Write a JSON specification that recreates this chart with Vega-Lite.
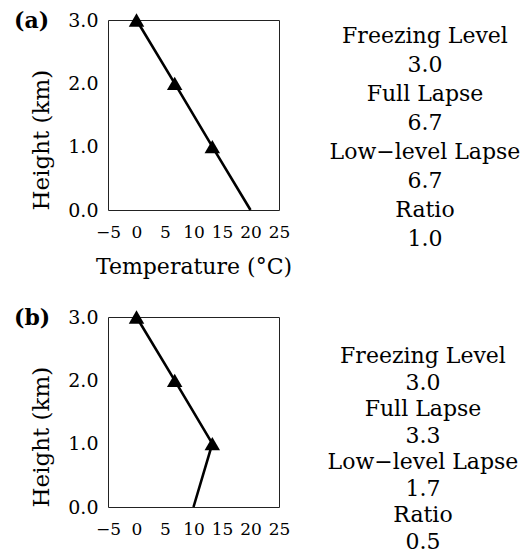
{
  "$schema": "https://vega.github.io/schema/vega-lite/v6.json",
  "padding": {"left": 13, "top": 9, "right": 0, "bottom": 0},
  "background": "white",
  "config": {
    "view": {"stroke": null},
    "font": "DejaVu Serif",
    "axis": {
      "grid": false, "ticks": false, "tickSize": 0, "domain": false,
      "labelColor": "black", "titleColor": "black",
      "labelFont": "DejaVu Serif", "titleFont": "DejaVu Serif",
      "titleFontWeight": "normal", "labelFlush": false
    }
  },
  "datasets": {
    "profiles": [
      {"panel": "a", "height": 0, "temp": 20},
      {"panel": "a", "height": 1, "temp": 13.3},
      {"panel": "a", "height": 2, "temp": 6.7},
      {"panel": "a", "height": 3, "temp": 0},
      {"panel": "b", "height": 0, "temp": 10},
      {"panel": "b", "height": 1, "temp": 13.3},
      {"panel": "b", "height": 2, "temp": 6.7},
      {"panel": "b", "height": 3, "temp": 0}
    ],
    "stats": [
      {"panel": "a", "line": 0, "label": "Freezing Level"},
      {"panel": "a", "line": 1, "label": "3.0"},
      {"panel": "a", "line": 2, "label": "Full Lapse"},
      {"panel": "a", "line": 3, "label": "6.7"},
      {"panel": "a", "line": 4, "label": "Low−level Lapse"},
      {"panel": "a", "line": 5, "label": "6.7"},
      {"panel": "a", "line": 6, "label": "Ratio"},
      {"panel": "a", "line": 7, "label": "1.0"},
      {"panel": "b", "line": 0, "label": "Freezing Level"},
      {"panel": "b", "line": 1, "label": "3.0"},
      {"panel": "b", "line": 2, "label": "Full Lapse"},
      {"panel": "b", "line": 3, "label": "3.3"},
      {"panel": "b", "line": 4, "label": "Low−level Lapse"},
      {"panel": "b", "line": 5, "label": "1.7"},
      {"panel": "b", "line": 6, "label": "Ratio"},
      {"panel": "b", "line": 7, "label": "0.5"}
    ]
  },
  "spacing": 28,
  "vconcat": [
    {
      "spacing": 32,
      "hconcat": [
        {
          "width": 171, "height": 190,
          "view": {"stroke": "#222", "strokeWidth": 1},
          "title": {"text": "(a)", "anchor": "start", "frame": "group", "orient": "top", "baseline": "top", "offset": 2, "dx": -94, "dy": 24, "fontSize": 22, "fontWeight": "bold", "font": "DejaVu Serif", "color": "black"},
          "data": {"name": "profiles"},
          "transform": [{"filter": "datum.panel === 'a'"}],
          "encoding": {
            "x": {"field": "temp", "type": "quantitative", "scale": {"domain": [-5, 25], "nice": false, "zero": false},
                  "axis": {"values": [-5, 0, 5, 10, 15, 20, 25], "format": "d", "title": "Temperature (°C)", "labelFontSize": 17, "labelPadding": 14, "labelOverlap": false, "labelBound": false, "titleFontSize": 22, "titlePadding": 16}},
            "y": {"field": "height", "type": "quantitative", "scale": {"domain": [0, 3], "nice": false},
                  "axis": {"values": [0, 1, 2, 3], "format": ".1f", "title": "Height (km)", "labelFontSize": 19, "labelPadding": 10, "titleFontSize": 23, "titlePadding": 14, "titleAnchor": "start"}}
          },
          "layer": [
            {"mark": {"type": "line", "color": "black", "strokeWidth": 2.6}, "encoding": {"order": {"field": "height", "type": "quantitative"}}},
            {"transform": [{"filter": "datum.height > 0"}], "mark": {"type": "point", "shape": "triangle-up", "filled": true, "color": "black", "opacity": 1, "size": 240}}
          ]
        },
        {
          "width": 200, "height": 190,
          "data": {"name": "stats"},
          "transform": [{"filter": "datum.panel === 'a'"}],
          "mark": {"type": "text", "fontSize": 22, "font": "DejaVu Serif", "color": "black", "baseline": "middle", "align": "center"},
          "encoding": {
            "y": {"field": "line", "type": "quantitative", "scale": {"domain": [-0.552, 6.0], "reverse": true, "nice": false, "zero": false}, "axis": null},
            "text": {"field": "label"}
          }
        }
      ]
    },
    {
      "spacing": 32,
      "hconcat": [
        {
          "width": 171, "height": 190,
          "view": {"stroke": "#222", "strokeWidth": 1},
          "title": {"text": "(b)", "anchor": "start", "frame": "group", "orient": "top", "baseline": "top", "offset": 2, "dx": -94, "dy": 24, "fontSize": 22, "fontWeight": "bold", "font": "DejaVu Serif", "color": "black"},
          "data": {"name": "profiles"},
          "transform": [{"filter": "datum.panel === 'b'"}],
          "encoding": {
            "x": {"field": "temp", "type": "quantitative", "scale": {"domain": [-5, 25], "nice": false, "zero": false},
                  "axis": {"values": [-5, 0, 5, 10, 15, 20, 25], "format": "d", "title": null, "labelFontSize": 17, "labelPadding": 14, "labelOverlap": false, "labelBound": false}},
            "y": {"field": "height", "type": "quantitative", "scale": {"domain": [0, 3], "nice": false},
                  "axis": {"values": [0, 1, 2, 3], "format": ".1f", "title": "Height (km)", "labelFontSize": 19, "labelPadding": 10, "titleFontSize": 23, "titlePadding": 14, "titleAnchor": "start"}}
          },
          "layer": [
            {"mark": {"type": "line", "color": "black", "strokeWidth": 2.6}, "encoding": {"order": {"field": "height", "type": "quantitative"}}},
            {"transform": [{"filter": "datum.height > 0"}], "mark": {"type": "point", "shape": "triangle-up", "filled": true, "color": "black", "opacity": 1, "size": 240}}
          ]
        },
        {
          "width": 200, "height": 190,
          "data": {"name": "stats"},
          "transform": [{"filter": "datum.panel === 'b'"}],
          "mark": {"type": "text", "fontSize": 22, "font": "DejaVu Serif", "color": "black", "baseline": "middle", "align": "center"},
          "encoding": {
            "y": {"field": "line", "type": "quantitative", "scale": {"domain": [-1.472, 5.698], "reverse": true, "nice": false, "zero": false}, "axis": null},
            "text": {"field": "label"}
          }
        }
      ]
    }
  ]
}
